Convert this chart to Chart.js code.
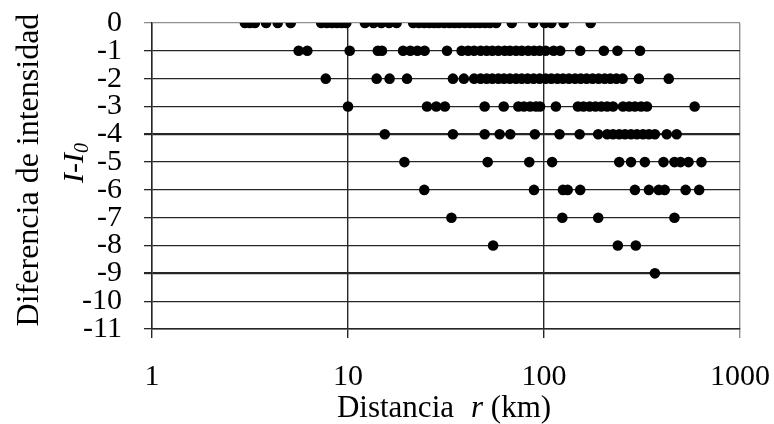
<!DOCTYPE html>
<html>
<head>
<meta charset="utf-8">
<script src="https://cdn.jsdelivr.net/npm/chart.js@4/dist/chart.umd.min.js"></script>
<style>
  html, body { margin: 0; padding: 0; background: #fff; }
  #wrap { width: 774px; height: 424px; position: relative; }
</style>
</head>
<body>
<div id="wrap"><canvas id="chart"></canvas></div>
<script>
// intensity difference levels, one row of distances per level
var levels = [0, -1, -2, -3, -4, -5, -6, -7, -8, -9];

var row0 = [2.98, 3.16, 3.35, 3.82, 4.38, 5.1, 7.3, 7.8, 8.3, 8.8, 9.3, 9.8,
            12.2, 13.5, 14.8, 16.2, 17.7, 21.5, 23, 24.5, 26, 27.5, 29, 31, 33,
            35, 37, 39.5, 42, 44.5, 47, 50, 53, 57, 68.5, 88, 101, 109, 126, 173];
var row1 = [5.6, 6.2, 10.2, 14.2, 14.9, 19.1, 20.8, 22.6, 24.6, 32, 38, 41, 44,
            47.5, 51, 54.5, 58.5, 63, 67, 72, 77, 83, 89, 95, 102, 112, 121, 153,
            202, 237, 309];
var row2 = [7.7, 14, 16.3, 20, 34.3, 39, 44, 47.5, 51, 54.5, 58.5, 62.5, 67, 72,
            77, 82.5, 88.5, 95, 102, 109, 117, 125, 134, 144, 154, 165, 177, 190,
            204, 218, 234, 252, 305, 433];
var row3 = [10, 25.3, 28.2, 31.2, 49.8, 62.3, 74, 79, 85, 91, 95.4, 115, 149, 159,
            171, 183, 196, 210, 225, 253, 272, 291, 313, 335, 587];
var row4 = [15.4, 34.3, 49.8, 59.4, 67.3, 89.8, 120, 152, 189, 210, 225, 242, 259,
            278, 298, 320, 343, 368, 423, 475];
var row5 = [19.4, 51.6, 84.1, 110, 242, 278, 327, 407, 463, 497, 546, 636];
var row6 = [24.5, 88.9, 125, 132, 153, 291, 343, 385, 413, 528, 619];
var row7 = [33.7, 124, 189, 463];
var row8 = [55, 238, 294];
var row9 = [368];

var xTicks = [1, 10, 100, 1000];

var rows = [row0, row1, row2, row3, row4, row5, row6, row7, row8, row9];
var points = [];
rows.forEach(function (xs, i) {
    xs.forEach(function (x) { points.push({ x: x, y: levels[i] }); });
});

var serif = '"Liberation Serif", "Times New Roman", serif';
var dark = '#262626';
var light = '#8f8f8f';

// axis titles with italic/subscript parts
var titles = {
    id: 'titles',
    afterDraw: function (chart) {
        var ctx = chart.ctx;
        var area = chart.chartArea;
        ctx.save();
        ctx.fillStyle = '#000';
        ctx.textBaseline = 'alphabetic';

        // x title
        var cx = (area.left + area.right) / 2 - 2;
        var fN = '31px ' + serif, fI = 'italic 31px ' + serif;
        ctx.font = fN;
        var w1 = ctx.measureText('Distancia').width;
        var w3 = ctx.measureText(' (km)').width;
        ctx.font = fI;
        var w2 = ctx.measureText('r').width;
        var gap = 17;
        var total = w1 + gap + w2 + w3;
        var x0 = cx - total / 2, yb = 417;
        ctx.textAlign = 'left';
        ctx.font = fN; ctx.fillText('Distancia', x0, yb);
        ctx.font = fI; ctx.fillText('r', x0 + w1 + gap, yb);
        ctx.font = fN; ctx.fillText(' (km)', x0 + w1 + gap + w2, yb);

        // y title, first line
        ctx.save();
        ctx.translate(38, 170);
        ctx.rotate(-Math.PI / 2);
        ctx.font = '32px ' + serif;
        ctx.textAlign = 'center';
        ctx.fillText('Diferencia de intensidad', 0, 0);
        ctx.restore();

        // y title, second line: I-I0
        ctx.save();
        ctx.translate(83, 163);
        ctx.rotate(-Math.PI / 2);
        ctx.textAlign = 'left';
        var fMain = 'italic 30px ' + serif, fSub = 'italic 20px ' + serif;
        ctx.font = fMain;
        var a = ctx.measureText('I-I').width;
        ctx.font = fSub;
        var b = ctx.measureText('0').width;
        var s = -(a + b) / 2;
        ctx.font = fMain; ctx.fillText('I-I', s, 0);
        ctx.font = fSub; ctx.fillText('0', s + a, 5);
        ctx.restore();

        ctx.restore();
    }
};

new Chart(document.getElementById('chart'), {
    type: 'scatter',
    data: {
        datasets: [{
            data: points,
            backgroundColor: '#000',
            borderWidth: 0,
            pointRadius: 5.3,
            pointHoverRadius: 5.3
        }]
    },
    plugins: [titles],
    options: {
        responsive: true,
        maintainAspectRatio: false,
        animation: false,
        events: [],
        layout: { padding: { left: 0, top: 23, right: 34, bottom: 0 } },
        plugins: {
            legend: { display: false },
            tooltip: { enabled: false }
        },
        scales: {
            x: {
                type: 'logarithmic',
                min: 1,
                max: 1000,
                afterBuildTicks: function (scale) {
                    scale.ticks = xTicks.map(function (v) { return { value: v }; });
                },
                afterFit: function (scale) {
                    scale.height = 95;
                    scale.paddingLeft = 0;
                    scale.paddingRight = 0;
                },
                border: { display: true, color: dark, width: 1.4 },
                grid: {
                    color: function (c) { return c.tick && c.tick.value === 1000 ? light : dark; },
                    lineWidth: 1.4,
                    tickLength: 9
                },
                ticks: {
                    autoSkip: false,
                    maxRotation: 0,
                    padding: 21,
                    color: '#000',
                    font: { family: serif, size: 30 },
                    callback: function (v) { return String(v); }
                }
            },
            y: {
                type: 'linear',
                min: -11,
                max: 0,
                afterFit: function (scale) {
                    scale.width = 152;
                    scale.paddingTop = 0;
                    scale.paddingBottom = 0;
                },
                border: { display: true, color: dark, width: 1.4 },
                grid: {
                    color: function (c) { return c.tick && c.tick.value === 0 ? light : dark; },
                    lineWidth: function (c) {
                        var v = c.tick && c.tick.value;
                        return (v === -4 || v === -9) ? 2.2 : 1.3;
                    },
                    tickLength: 8
                },
                ticks: {
                    stepSize: 1,
                    autoSkip: false,
                    padding: 22,
                    color: '#000',
                    font: { family: serif, size: 30 },
                    callback: function (v) { return String(v); }
                }
            }
        }
    }
});
</script>
</body>
</html>
